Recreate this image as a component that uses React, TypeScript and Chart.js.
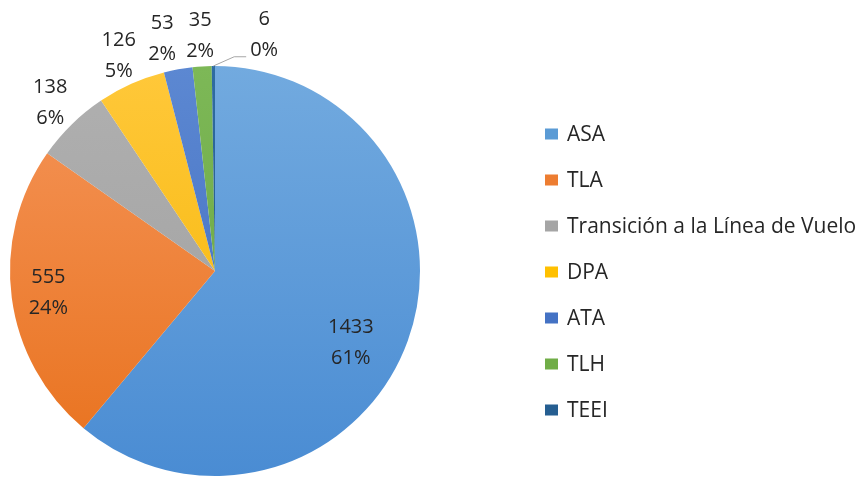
import React, { useEffect, useRef } from "react";
import { Chart, registerables } from "chart.js";

Chart.register(...registerables);

const categories = [
  "ASA",
  "TLA",
  "Transición a la Línea de Vuelo",
  "DPA",
  "ATA",
  "TLH",
  "TEEI",
];
const values = [1433, 555, 138, 126, 53, 35, 6];
const percentLabels = ["61%", "24%", "6%", "5%", "2%", "2%", "0%"];
const colorsTop = ["#72AADF", "#F5955A", "#B0B0B0", "#FFC83A", "#5C88D2", "#7DB857", "#2F6CA2"];
const colorsBottom = ["#4A8CD3", "#E8711C", "#9E9E9E", "#F4B400", "#3E6ABD", "#66A23D", "#204E7C"];
const colorsMid = ["#5B9BD5", "#ED7D31", "#A5A5A5", "#FFC000", "#4472C4", "#70AD47", "#255E91"];

const FONT = "'Open Sans', 'Noto Sans', sans-serif";

const labelPlugin = {
  id: "pieLabels",
  afterDraw(chart: any) {
    const ctx = chart.ctx;
    const meta = chart.getDatasetMeta(0);
    ctx.save();
    ctx.font = `20px ${FONT}`;
    ctx.fillStyle = "#262626";
    ctx.textAlign = "center";
    ctx.textBaseline = "middle";
    const inside = [
      { f: 0.75, da: 8 },
      { f: 0.82, da: 0 },
    ];
    const pos: any[] = [];
    meta.data.forEach((arc: any, i: number) => {
      const p = arc.getProps(["x", "y", "startAngle", "endAngle", "outerRadius"], true);
      const mid = (p.startAngle + p.endAngle) / 2;
      const isInside = i < inside.length;
      const f = isInside ? inside[i].f : 1.15;
      const a = isInside ? mid + (inside[i].da * Math.PI) / 180 : mid;
      pos.push({
        x: p.x + Math.cos(a) * p.outerRadius * f,
        y: p.y + Math.sin(a) * p.outerRadius * f,
        ex: p.x + Math.cos(mid) * p.outerRadius,
        ey: p.y + Math.sin(mid) * p.outerRadius,
        inside: isInside,
        leader: false,
      });
    });
    // resolve collisions among outside labels
    for (let i = inside.length + 1; i < pos.length; i++) {
      if (pos[i].x - pos[i - 1].x < 25) {
        pos[i].x = pos[i - 1].x + 64;
        pos[i].leader = true;
      }
    }
    for (let i = pos.length - 2; i >= inside.length; i--) {
      if (pos[i + 1].leader) continue;
      if (pos[i + 1].x - pos[i].x < 38) pos[i].x = pos[i + 1].x - 38;
    }
    pos.forEach((q, i) => {
      if (q.leader) {
        ctx.save();
        ctx.strokeStyle = "#A6A6A6";
        ctx.lineWidth = 1;
        ctx.beginPath();
        ctx.moveTo(q.x - 18, q.y + 21.5);
        ctx.lineTo(q.x - 30, q.y + 21.5);
        ctx.lineTo(q.ex, q.ey);
        ctx.stroke();
        ctx.restore();
      }
      ctx.fillText(String(values[i]), q.x, q.y - 15.5);
      ctx.fillText(percentLabels[i], q.x, q.y + 15.5);
    });

    // legend
    const startY = 134;
    const step = 46;
    ctx.textAlign = "left";
    ctx.font = `21px ${FONT}`;
    categories.forEach((c, i) => {
      const y = startY + i * step;
      ctx.fillStyle = colorsMid[i];
      ctx.fillRect(545, y - 5.5, 13, 11);
      ctx.fillStyle = "#262626";
      ctx.fillText(c, 567, y + 1);
    });
    ctx.restore();
  },
};

export default function App() {
  const ref = useRef<HTMLCanvasElement | null>(null);
  useEffect(() => {
    if (!ref.current) return;
    const chart = new Chart(ref.current, {
      type: "pie",
      data: {
        labels: categories,
        datasets: [
          {
            data: values,
            borderWidth: 0,
            backgroundColor: (c: any) => {
              const i = c.dataIndex;
              const area = c.chart.chartArea;
              if (!area) return colorsMid[i];
              const g = c.chart.ctx.createLinearGradient(0, area.top, 0, area.bottom);
              g.addColorStop(0, colorsTop[i]);
              g.addColorStop(1, colorsBottom[i]);
              return g;
            },
          },
        ],
      },
      options: {
        responsive: false,
        animation: false,
        layout: { padding: { left: 10, top: 66, right: 445, bottom: 3 } },
        plugins: {
          legend: { display: false },
          tooltip: { enabled: false },
        },
      },
      plugins: [labelPlugin],
    });
    return () => chart.destroy();
  }, []);
  return (
    <div style={{ position: "absolute", left: 0, top: 0, width: 865, height: 479, background: "#fff" }}>
      <canvas ref={ref} width={865} height={479} />
    </div>
  );
}
